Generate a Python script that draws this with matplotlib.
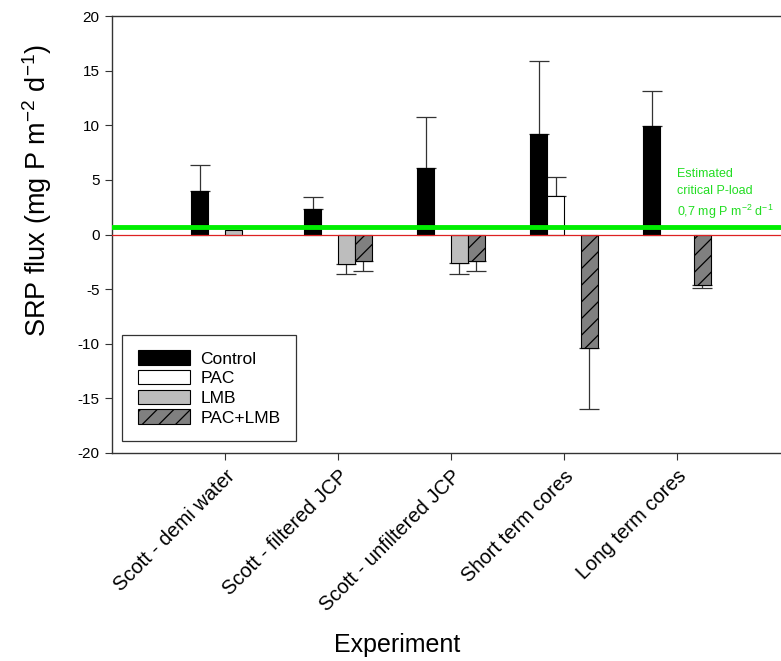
import numpy as np
import matplotlib.pyplot as plt

plt.rcParams['font.family'] = ['Liberation Sans', 'DejaVu Sans']
plt.rcParams['axes.unicode_minus'] = False
plt.rcParams['mathtext.fontset'] = 'custom'
plt.rcParams['mathtext.rm'] = 'Liberation Sans'
plt.rcParams['mathtext.it'] = 'Liberation Sans:italic'
plt.rcParams['hatch.linewidth'] = 0.9

experiments = ['Scott - demi water', 'Scott - filtered JCP', 'Scott - unfiltered JCP',
               'Short term cores', 'Long term cores']
series = ['Control', 'PAC', 'LMB', 'PAC+LMB']

# mean flux (NaN = not measured)
control = [4.0, 2.3, 6.05, 9.2, 9.95]
pac = [np.nan, np.nan, np.nan, 3.55, np.nan]
lmb = [0.4, -2.7, -2.6, np.nan, np.nan]
pac_lmb = [np.nan, -2.4, -2.4, -10.4, -4.6]

# one-sided errors
control_err = [2.4, 1.15, 4.75, 6.7, 3.2]
pac_err = [np.nan, np.nan, np.nan, 1.75, np.nan]
lmb_err = [0.0, 0.9, 1.0, np.nan, np.nan]
pac_lmb_err = [np.nan, 0.9, 0.9, 5.55, 0.3]

critical_load = 0.7

values = [control, pac, lmb, pac_lmb]
errors = [control_err, pac_err, lmb_err, pac_lmb_err]
faces = ['black', 'white', '#bdbdbd', '#808080']
hatches = [None, None, None, '//']

fig = plt.figure(figsize=(7.81, 6.61), dpi=100)
ax = fig.add_axes([112/781, 208/661, 678/781, 437/661])

x = np.arange(len(experiments))
w = 0.15
offsets = [-1.5*w, -0.5*w, 0.5*w, 1.5*w]

for vals, errs, fc, h, off, name in zip(values, errors, faces, hatches, offsets, series):
    vals = np.array(vals, dtype=float)
    errs = np.array(errs, dtype=float)
    ax.bar(x + off, vals, w, color=fc, edgecolor='black', linewidth=0.8,
           hatch=h, label=name, zorder=3)
    lower = np.where(vals < 0, errs, 0)
    upper = np.where(vals >= 0, errs, 0)
    ok = ~np.isnan(vals) & (errs > 0)
    ax.errorbar((x + off)[ok], vals[ok], yerr=[lower[ok], upper[ok]], fmt='none',
                ecolor='#333333', elinewidth=0.9, capsize=7, capthick=0.9, zorder=2)

ax.axhline(0, color='#dd2222', lw=0.9, zorder=4)
ax.axhline(critical_load, color='#00ee00', lw=3.5, zorder=5)

ax.text(4.0, 1.2, 'Estimated\ncritical P-load\n0,7 mg P m$^{-2}$ d$^{-1}$',
        color='#22dd22', fontsize=9, va='bottom', ha='left', linespacing=1.5)

ax.set_xlim(-1, 5)
ax.set_ylim(-20, 20)
ax.set_yticks(np.arange(-20, 21, 5))
ax.set_xticks(x)
ax.set_xticklabels(experiments, rotation=45, ha='right', rotation_mode='anchor', fontsize=14.5)
ax.tick_params(axis='y', labelsize=11, direction='out', length=5, colors='#333333',
               labelcolor='black', pad=4)
ax.tick_params(axis='x', direction='out', length=5, colors='#333333', labelcolor='black',
               pad=5)
for s in ax.spines.values():
    s.set_color('#333333')
    s.set_linewidth(1.0)

ax.set_ylabel('SRP flux (mg P m$^{-2}$ d$^{-1}$)', fontsize=19.5)
ax.set_xlabel('Experiment', fontsize=18)
ax.yaxis.set_label_coords(-0.11, 0.6)
ax.xaxis.set_label_coords((397-112)/678, (453-645)/437)
ax.xaxis.label.set_va('center')
ax.yaxis.label.set_va('center')

leg = ax.legend(loc='lower left', bbox_to_anchor=(0.015, 0.027), borderaxespad=0,
                fontsize=12.5, fancybox=False, edgecolor='#333333', framealpha=1,
                handlelength=3.0, handleheight=0.9, labelspacing=0.2, borderpad=0.9,
                handletextpad=0.6)
leg.get_frame().set_linewidth(0.9)

fig.savefig('out.png', dpi=100)
